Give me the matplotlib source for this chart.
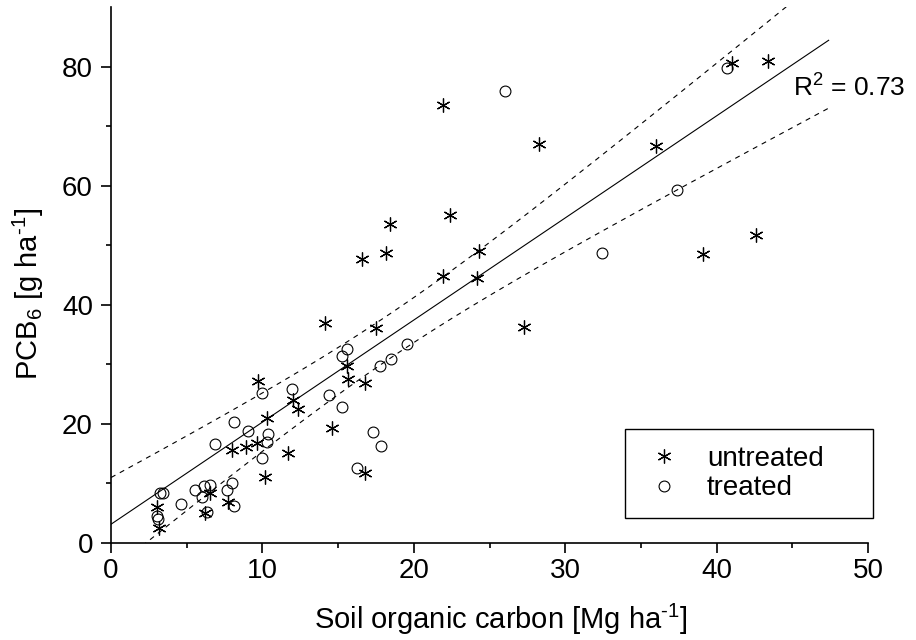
import numpy as np
import matplotlib
matplotlib.use('Agg')
import matplotlib.pyplot as plt
from matplotlib.ticker import MultipleLocator, FixedLocator

plt.rcParams['font.family'] = ['Liberation Sans', 'DejaVu Sans']
plt.rcParams['mathtext.fontset'] = 'custom'
plt.rcParams['mathtext.rm'] = 'Liberation Sans'
plt.rcParams['mathtext.it'] = 'Liberation Sans:italic'
plt.rcParams['mathtext.bf'] = 'Liberation Sans:bold'

# untreated soils (asterisks)
untr_x = [3.02, 3.2, 6.2, 6.54, 7.7, 7.97, 8.9, 9.62, 9.69, 10.19, 10.28, 11.7,
          12.0, 12.37, 14.13, 14.62, 15.57, 15.68, 16.56, 16.78, 16.78, 17.48,
          18.16, 18.43, 21.9, 21.95, 22.4, 24.2, 24.3, 27.3, 28.3, 36.0, 39.1,
          41.0, 42.6, 43.4]
untr_y = [6.1, 2.5, 5.0, 8.45, 6.9, 15.7, 16.1, 16.8, 27.3, 11.1, 21.0, 15.1,
          24.1, 22.5, 36.9, 19.4, 29.7, 27.5, 47.8, 26.9, 11.7, 36.1,
          48.7, 53.6, 73.6, 44.9, 55.1, 44.5, 49.1, 36.3, 67.1, 66.7, 48.5,
          80.7, 51.8, 81.0]

# treated soils (circles)
trt_x = [3.02, 3.1, 3.24, 3.46, 4.6, 5.55, 5.99, 6.14, 6.36, 6.54, 6.89, 7.68,
         7.97, 8.12, 8.12, 9.07, 9.95, 9.97, 10.33, 10.35, 11.93, 14.42, 15.24,
         15.24, 15.57, 16.27, 17.33, 17.77, 17.81, 18.5, 19.53, 26.0, 32.4,
         37.4, 40.67]
trt_y = [4.6, 4.1, 8.45, 8.4, 6.55, 8.9, 7.7, 9.6, 5.26, 9.75, 16.6, 8.9,
         10.1, 6.2, 20.3, 18.9, 25.2, 14.3, 16.9, 18.3, 25.8, 24.8, 22.9,
         31.4, 32.6, 12.6, 18.7, 29.7, 16.3, 30.9, 33.4, 76.0, 48.7,
         59.3, 79.8]

# linear fit and 95% confidence band
fit_intercept = 3.15
fit_slope = 1.716
fit_xmax = 47.4
band_center = 18.5
band_min_var = 14.0
band_curv = 0.139
r2_text = 'R$^2$ = 0.73'

fig = plt.figure(figsize=(9.16, 6.4), dpi=100)
ax = fig.add_axes([0.1212, 0.1516, 0.8264, 0.8367])

xs = np.linspace(0, fit_xmax, 200)
fit = fit_intercept + fit_slope * xs
half = np.sqrt(band_min_var + band_curv * (xs - band_center) ** 2)
ax.plot(xs, fit, color='black', lw=0.8, zorder=1)
ax.plot(xs, fit + half, color='black', lw=0.8, ls=(0, (4.5, 4.5)), zorder=1)
ax.plot(xs, fit - half, color='black', lw=0.8, ls=(0, (4.5, 4.5)), zorder=1)

ax.plot(untr_x, untr_y, ls='none', marker=(6, 2, 0), ms=10, mew=0.9,
        color='black', label='untreated', zorder=3)
ax.plot(trt_x, trt_y, ls='none', marker='o', ms=7.8, mew=0.8,
        mfc='none', mec='black', label='treated', zorder=3)

ax.text(45.05, 75.1, r2_text, fontsize=19, ha='left', va='baseline')

ax.set_xlim(0, 50)
ax.set_ylim(0, 90)
ax.xaxis.set_major_locator(MultipleLocator(10))
ax.xaxis.set_minor_locator(MultipleLocator(5))
ax.yaxis.set_major_locator(MultipleLocator(20))
ax.yaxis.set_minor_locator(FixedLocator([10, 30, 50, 70]))

for s in ['top', 'right']:
    ax.spines[s].set_visible(False)
for s in ['left', 'bottom']:
    ax.spines[s].set_linewidth(1.2)
ax.tick_params(which='major', direction='out', length=7, width=1.2,
               labelsize=20)
ax.tick_params(which='minor', direction='out', length=3.5, width=1.2)
ax.tick_params(axis='x', which='major', pad=3.5)
ax.tick_params(axis='y', which='major', pad=6)

ax.set_xlabel(r'Soil organic carbon [Mg ha$^{\text{-}1}$]', fontsize=21)
ax.xaxis.set_label_coords(0.515, -0.11)
ax.set_ylabel(r'PCB$_6$ [g ha$^{\text{-}1}$]', fontsize=21)
ax.yaxis.set_label_coords(-0.086, 0.465)

leg = ax.legend(loc='upper left', bbox_to_anchor=(0.679, 0.042, 0.328, 0.17),
                mode='expand', fontsize=20, frameon=True, fancybox=False,
                edgecolor='black', borderpad=0.6, labelspacing=0.12,
                handlelength=1.6, handletextpad=0.75, borderaxespad=0)
leg.get_frame().set_linewidth(1.0)
leg.get_frame().set_alpha(1)

fig.savefig('out.png', dpi=100)
